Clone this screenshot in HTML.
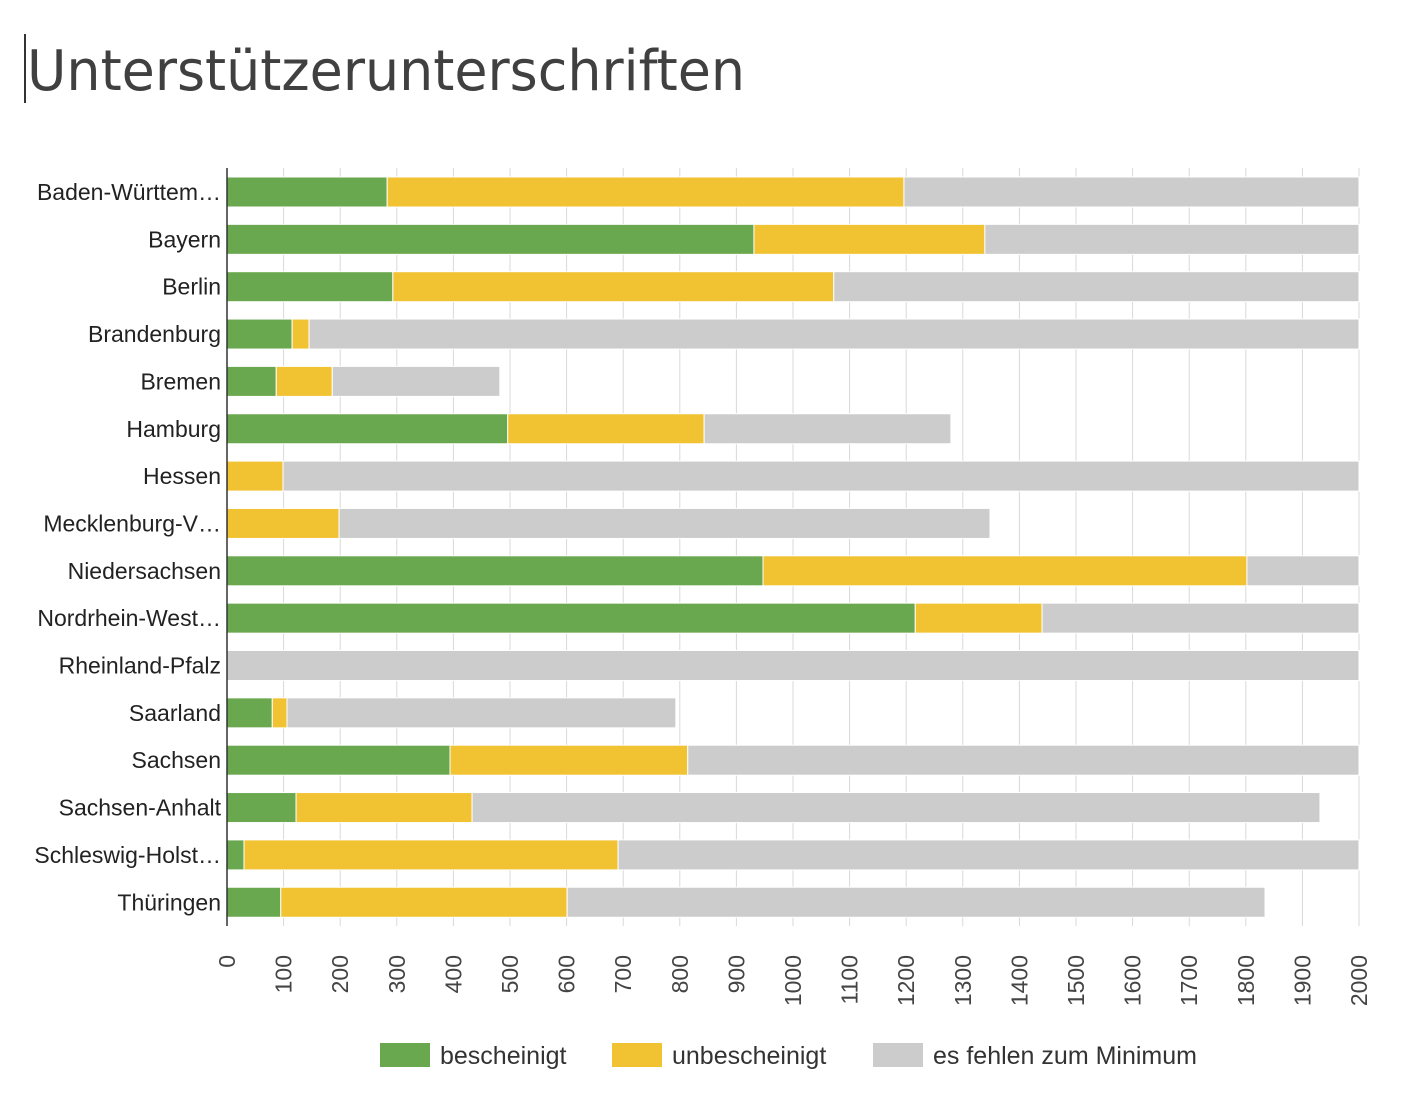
<!DOCTYPE html>
<html><head><meta charset="utf-8"><style>
body{margin:0;background:#fff;}
svg text{font-family:"Liberation Sans",Arial,sans-serif;}
</style></head><body>
<svg id="chart" width="1404" height="1092" xmlns="http://www.w3.org/2000/svg">
<rect x="24" y="34" width="2" height="69" fill="#333"/>
<text x="27" y="90" font-size="56" fill="#404040" style="font-family:'DejaVu Sans',sans-serif" textLength="718" lengthAdjust="spacingAndGlyphs">Unterstützerunterschriften</text>
<g id="grid"></g><g id="bars"></g><g id="axes"></g><g id="legend"></g>
</svg>
<script>
const categories=["Baden-Württem…","Bayern","Berlin","Brandenburg","Bremen","Hamburg","Hessen","Mecklenburg-V…","Niedersachsen","Nordrhein-West…","Rheinland-Pfalz","Saarland","Sachsen","Sachsen-Anhalt","Schleswig-Holst…","Thüringen"];
const bescheinigt=[283,931,293,115,87,496,0,0,947,1216,0,80,394,122,30,95];
const unbescheinigt=[913,408,779,30,99,347,99,198,855,224,0,26,420,311,661,506];
const fehlen=[804,661,928,1855,296,436,1901,1150,198,560,2000,687,1186,1498,1309,1233];
const xTicks=[0,100,200,300,400,500,600,700,800,900,1000,1100,1200,1300,1400,1500,1600,1700,1800,1900,2000];
const seriesNames=["bescheinigt","unbescheinigt","es fehlen zum Minimum"];
const colors=["#6aa84f","#f1c232","#cccccc"];
const NS="http://www.w3.org/2000/svg";
const x0=227,x1=1359,plotTop=168,plotBottom=926,rowH=47.35,barH=30,firstC=192;
const xs=v=>x0+(x1-x0)*v/2000;
const yc=i=>firstC+i*rowH;
function mk(tag,attrs,parent){const e=document.createElementNS(NS,tag);for(const k in attrs)e.setAttribute(k,attrs[k]);parent.appendChild(e);return e;}
const grid=document.getElementById('grid'),bars=document.getElementById('bars'),axes=document.getElementById('axes'),legend=document.getElementById('legend');
xTicks.forEach(t=>{
 const g=mk('line',{x1:xs(t),x2:xs(t),y1:plotTop,y2:plotBottom,stroke:'#d9d9d9','stroke-width':1},grid);
 
 
 const lx=xs(t)+8;
 const tx=mk('text',{x:0,y:0,'font-size':23,fill:'#444','text-anchor':'end',transform:`translate(${lx},955) rotate(-90)`},axes);
 tx.textContent=t;
 
 
});
const series=[bescheinigt,unbescheinigt,fehlen];
categories.forEach((c,i)=>{
 let acc=0;
 series.forEach((s,k)=>{
  const v=s[i];
  if(v>0){
   const r=mk('rect',{x:xs(acc),y:yc(i)-barH/2,width:xs(acc+v)-xs(acc),height:barH,fill:colors[k],stroke:'#fff','stroke-width':1},bars);
   
   
  }
  acc+=v;
 });
 const t=mk('text',{x:221,y:yc(i)+8,'font-size':23,fill:'#222','text-anchor':'end'},axes);
 t.textContent=c;
 
 
});
const ax=mk('line',{x1:x0,x2:x0,y1:plotTop,y2:plotBottom,stroke:'#333','stroke-width':1.5},axes);


const legX=[380,612,873];
seriesNames.forEach((n,k)=>{
 const r=mk('rect',{x:legX[k],y:1043,width:50,height:24,fill:colors[k]},legend);
 
 
 const t=mk('text',{x:legX[k]+60,y:1064,'font-size':25,fill:'#333'},legend);
 t.textContent=n;
 
 
});
</script>
</body></html>
